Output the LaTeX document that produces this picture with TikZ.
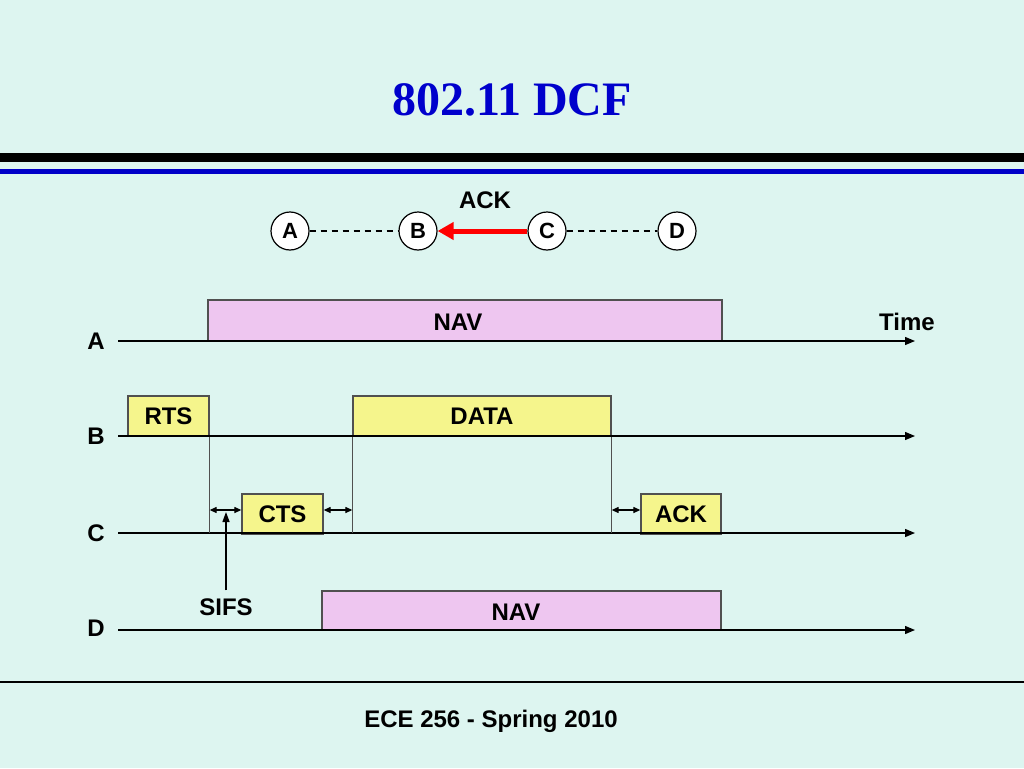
\documentclass[tikz,border=0pt]{standalone}
\usepackage{fontspec}
\setmainfont{Liberation Sans}
\newfontfamily\titlefont{Liberation Serif}
\usetikzlibrary{arrows.meta}
\definecolor{bg}{RGB}{221,245,240}
\definecolor{titleblue}{RGB}{0,0,204}
\definecolor{barblue}{RGB}{0,0,200}
\definecolor{navfill}{RGB}{238,198,240}
\definecolor{yelfill}{RGB}{245,245,140}
\definecolor{boxline}{RGB}{80,80,80}
\begin{document}
\begin{tikzpicture}[x=1pt,y=-1pt,
  lbl/.style={font=\fontsize{24}{27}\selectfont\bfseries, inner sep=0pt},
  stn/.style={circle, draw=black, fill=white, line width=1.2pt, minimum size=38pt, inner sep=0pt, font=\fontsize{22}{26}\selectfont\bfseries},
  dline/.style={draw=black, line width=1.3pt, dash pattern=on 6pt off 5pt},
  tl/.style={draw=black, line width=1.3pt, -{Triangle[length=10pt,width=8pt]}},
  navbox/.style={draw=boxline, fill=navfill, line width=1.3pt, inner sep=0pt, font=\fontsize{24}{27}\selectfont\bfseries},
  yelbox/.style={draw=boxline, fill=yelfill, line width=1.3pt, inner sep=0pt, font=\fontsize{24}{27}\selectfont\bfseries},
  vline/.style={draw=boxline, line width=1.6pt},
  sifsarr/.style={draw=black, line width=1.2pt, {Triangle[length=7pt,width=6pt]}-{Triangle[length=7pt,width=6pt]}},
  ptr/.style={draw=black, line width=1.3pt, -{Triangle[length=10pt,width=7pt]}}
]
\fill[bg] (0,0) rectangle (1024,768);
\useasboundingbox (0,0) rectangle (1024,768);

% title and bars
\node[font=\titlefont\fontsize{48}{52}\selectfont\bfseries, text=titleblue] (title) at (512,100) {802.11 DCF};
\fill[black] (0,153) rectangle (1024,162);
\fill[barblue] (0,169) rectangle (1024,174);

% station row
\node[stn] (nA) at (290,231) {A};
\node[stn] (nB) at (418,231) {B};
\node[stn] (nC) at (547,231) {C};
\node[stn] (nD) at (677,231) {D};
\draw[dline] (nA) -- (nB);
\draw[dline] (nC) -- (nD);
\draw[red, line width=5pt, -{Triangle[length=16pt,width=17pt]}] (nC) -- (nB);
\node[lbl] (ackTop) at (485,200) {ACK};

% timelines
\coordinate (a0) at (118,341); \coordinate (a1) at (915,341);
\coordinate (b0) at (118,436); \coordinate (b1) at (915,436);
\coordinate (c0) at (118,533); \coordinate (c1) at (915,533);
\coordinate (d0) at (118,630); \coordinate (d1) at (915,630);

% boxes
\node[navbox, minimum width=514pt, minimum height=41pt] (navA) at (465,320.5) {};
\node[lbl] (navAt) at (458,322) {NAV};
\node[yelbox, minimum width=81pt, minimum height=40pt] (rts) at (168.5,416) {RTS};
\node[yelbox, minimum width=258pt, minimum height=40pt] (data) at (482,416) {DATA};
\node[yelbox, minimum width=81pt, minimum height=40pt] (cts) at (282.5,514) {CTS};
\node[yelbox, minimum width=80pt, minimum height=40pt] (ack) at (681,514) {ACK};
\node[navbox, minimum width=399pt, minimum height=39pt] (navD) at (521.5,610.5) {};
\node[lbl] (navDt) at (516,612) {NAV};

\draw[tl] (a0) -- (a1);
\draw[tl] (b0) -- (b1);
\draw[tl] (c0) -- (c1);
\draw[tl] (d0) -- (d1);

\node[lbl] (lA) at (96,341) {A};
\node[lbl] (lB) at (96,436) {B};
\node[lbl] (lC) at (96,533) {C};
\node[lbl] (lD) at (96,628) {D};
\node[lbl] (time) at (907,322) {Time};

% vertical lines
\draw[vline] (rts.south east) -- (rts.south east |- c0);
\draw[vline] (data.south west) -- (data.south west |- c0);
\draw[vline] (data.south east) -- (data.south east |- c0);

% SIFS arrows
\coordinate (sy) at (0,510);
\draw[sifsarr] (rts.south east |- sy) -- (cts.west |- sy);
\draw[sifsarr] (cts.east |- sy) -- (data.south west |- sy);
\draw[sifsarr] (data.south east |- sy) -- (ack.west |- sy);
\node[lbl] (sifs) at (226,607) {SIFS};
\coordinate (sp) at (226,512);
\draw[ptr] ([yshift=8pt]sifs.north) -- (sp);

% footer
\draw[black, line width=1.2pt] (0,682) -- (1024,682);
\node[font=\fontsize{24}{28}\selectfont\bfseries] (foot) at (491,721) {ECE 256 - Spring 2010};
\end{tikzpicture}
\end{document}
